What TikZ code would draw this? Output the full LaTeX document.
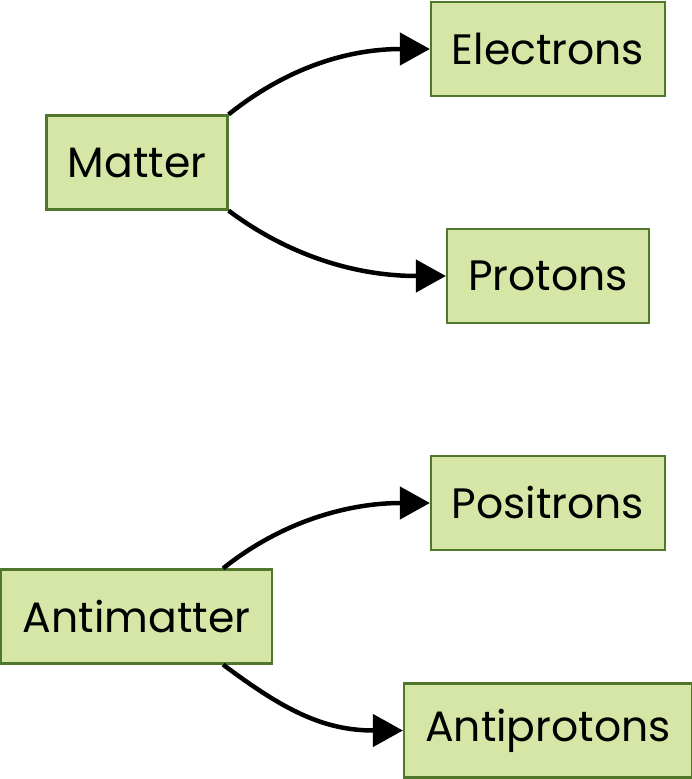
\documentclass[tikz,border=0pt]{standalone}
\usepackage{fontspec}
\setmainfont{Poppins}
\usetikzlibrary{arrows.meta}
\definecolor{boxfill}{RGB}{213,230,166}
\definecolor{boxline}{RGB}{80,120,44}
\begin{document}
\begin{tikzpicture}[x=1pt,y=-1pt,
  box/.style={draw=boxline,fill=boxfill,line width=2.2pt,inner sep=0pt,
    minimum height=94pt,font=\fontsize{42.5}{48}\selectfont},
  arr/.style={line width=4.5pt,-{Triangle[length=30pt,width=32pt]}}]
\useasboundingbox (0,0) rectangle (692,779);
\node[box,minimum width=234pt] (electrons) at (548,49) {Electrons};
\node[box,minimum width=181pt] (matter) at (137,162.5) {Matter};
\node[box,minimum width=202pt] (protons) at (548,276) {Protons};
\node[box,minimum width=234pt] (positrons) at (548,503) {Positrons};
\node[box,minimum width=271pt] (antimatter) at (136.5,616.5) {Antimatter};
\node[box,minimum width=288pt] (antiprotons) at (548,730.5) {Antiprotons};
\draw[arr] (matter.north east) .. controls +(60,-48) and +(-80,0) .. (electrons.west);
\draw[arr] (matter.south east) .. controls +(60,45) and +(-90,0) .. (protons.west);
\draw[arr] ([xshift=-50pt]antimatter.north east) .. controls +(60,-48) and +(-80,0) .. (positrons.west);
\draw[arr] ([xshift=-50pt]antimatter.south east) .. controls +(60,45) and +(-80,0) .. (antiprotons.west);
\end{tikzpicture}
\end{document}
